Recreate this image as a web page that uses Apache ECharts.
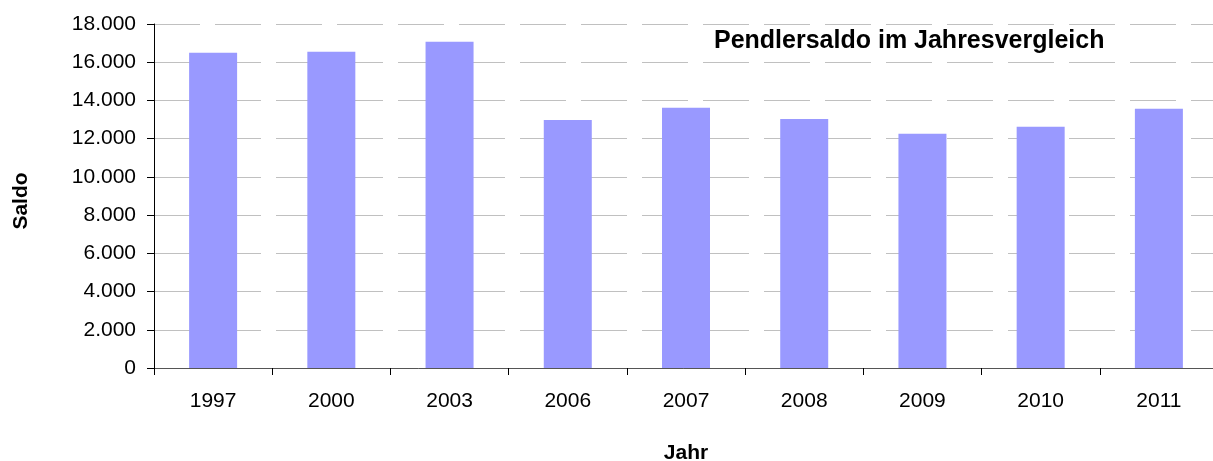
<!DOCTYPE html>
<html>
<head>
<meta charset="utf-8">
<script src="https://cdn.jsdelivr.net/npm/echarts@6/dist/echarts.min.js"></script>
<style>
  html, body { margin: 0; padding: 0; background: #fff; }
  #chart { width: 1213px; height: 461px; }
</style>
</head>
<body>
<div id="chart"></div>
<script>
const years = ["1997", "2000", "2003", "2006", "2007", "2008", "2009", "2010", "2011"];
const saldo = [16500, 16550, 17070, 12980, 13620, 13030, 12260, 12630, 13570];
const yTicks = { min: 0, max: 18000, interval: 2000 };

const myChart = echarts.init(document.getElementById("chart"));
const font = "Liberation Sans, Arial, sans-serif";

const options = {
  animation: false,
  title: {
    text: "Pendlersaldo im Jahresvergleich",
    left: 714,
    top: 29,
    padding: 0,
    textStyle: { fontFamily: font, fontSize: 25, fontWeight: "bold", color: "#000" },
  },
  grid: {
    left: 154,
    top: 24,
    width: 1064,
    bottom: 93,
    containLabel: false,
    outerBoundsMode: "none",
  },
  xAxis: {
    type: "category",
    data: years,
    name: "Jahr",
    nameLocation: "middle",
    nameGap: 75,
    nameTextStyle: { fontFamily: font, fontSize: 21, fontWeight: "bold", color: "#000" },
    axisLine: { lineStyle: { color: "#555", width: 1 } },
    axisTick: { show: true, length: 7, lineStyle: { color: "#000" } },
    axisLabel: { fontFamily: font, fontSize: 21, color: "#000", margin: 23 },
    splitLine: { show: false },
  },
  yAxis: {
    type: "value",
    min: yTicks.min,
    max: yTicks.max,
    interval: yTicks.interval,
    name: "Saldo",
    nameLocation: "middle",
    nameGap: 122,
    nameRotate: 90,
    nameTextStyle: {
      fontFamily: font,
      fontSize: 21,
      fontWeight: "bold",
      color: "#000",
      padding: [0, 10, 0, 0],
    },
    axisLine: { show: true, lineStyle: { color: "#000", width: 1 } },
    axisTick: { show: true, length: 7, lineStyle: { color: "#000" } },
    axisLabel: {
      fontFamily: font,
      fontSize: 21,
      color: "#000",
      margin: 18,
      formatter: (v) => v.toLocaleString("de-DE"),
    },
    splitLine: {
      show: true,
      lineStyle: { color: "#c0c0c0", width: 1, type: [46, 15] },
    },
  },
  series: [
    {
      type: "bar",
      data: saldo,
      barWidth: 48,
      itemStyle: { color: "#9999ff" },
    },
  ],
};

myChart.setOption(options);
</script>
</body>
</html>
